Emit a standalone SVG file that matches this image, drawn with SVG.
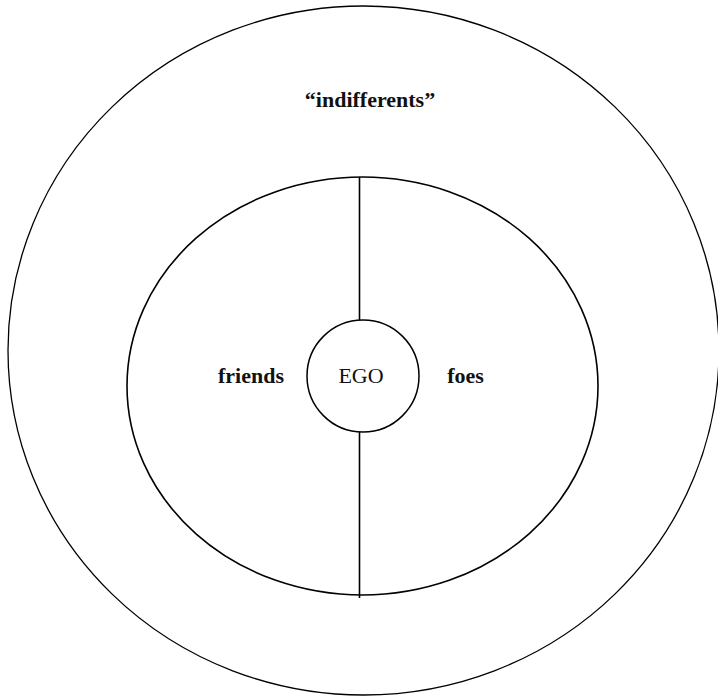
<svg xmlns="http://www.w3.org/2000/svg" width="718" height="698" viewBox="0 0 718 698">
  <style>
    .ring { fill: none; stroke: #000; }
    .label { font-family: "Liberation Serif", "DejaVu Serif", serif; font-size: 22px; fill: #111; text-anchor: middle; }
    .bold { font-weight: bold; }
    .divider { stroke: #000; stroke-width: 1.6; }
  </style>
  <rect width="718" height="698" fill="#fff"/>

  <g id="indifferents">
    <ellipse class="ring" cx="363.5" cy="350.5" rx="355.5" ry="344.5" stroke-width="1.3"/>
    <text class="label bold" x="370" y="107">“indifferents”</text>
  </g>

  <g id="circle-of-relations">
    <ellipse class="ring" cx="362.5" cy="386" rx="235.5" ry="209" stroke-width="1.6"/>
  </g>

  <g id="friends">
    <text class="label bold" x="251" y="383">friends</text>
  </g>

  <g id="foes">
    <text class="label bold" x="465.5" y="383">foes</text>
  </g>

  <g id="connectors">
    <line class="divider" x1="359.5" y1="177" x2="359.5" y2="320"/>
    <line class="divider" x1="359.5" y1="432" x2="359.5" y2="598"/>
  </g>

  <g id="ego">
    <circle class="ring" cx="363" cy="376" r="56" stroke-width="1.5" fill="#fff"/>
    <text class="label" x="361" y="383">EGO</text>
  </g>
</svg>
